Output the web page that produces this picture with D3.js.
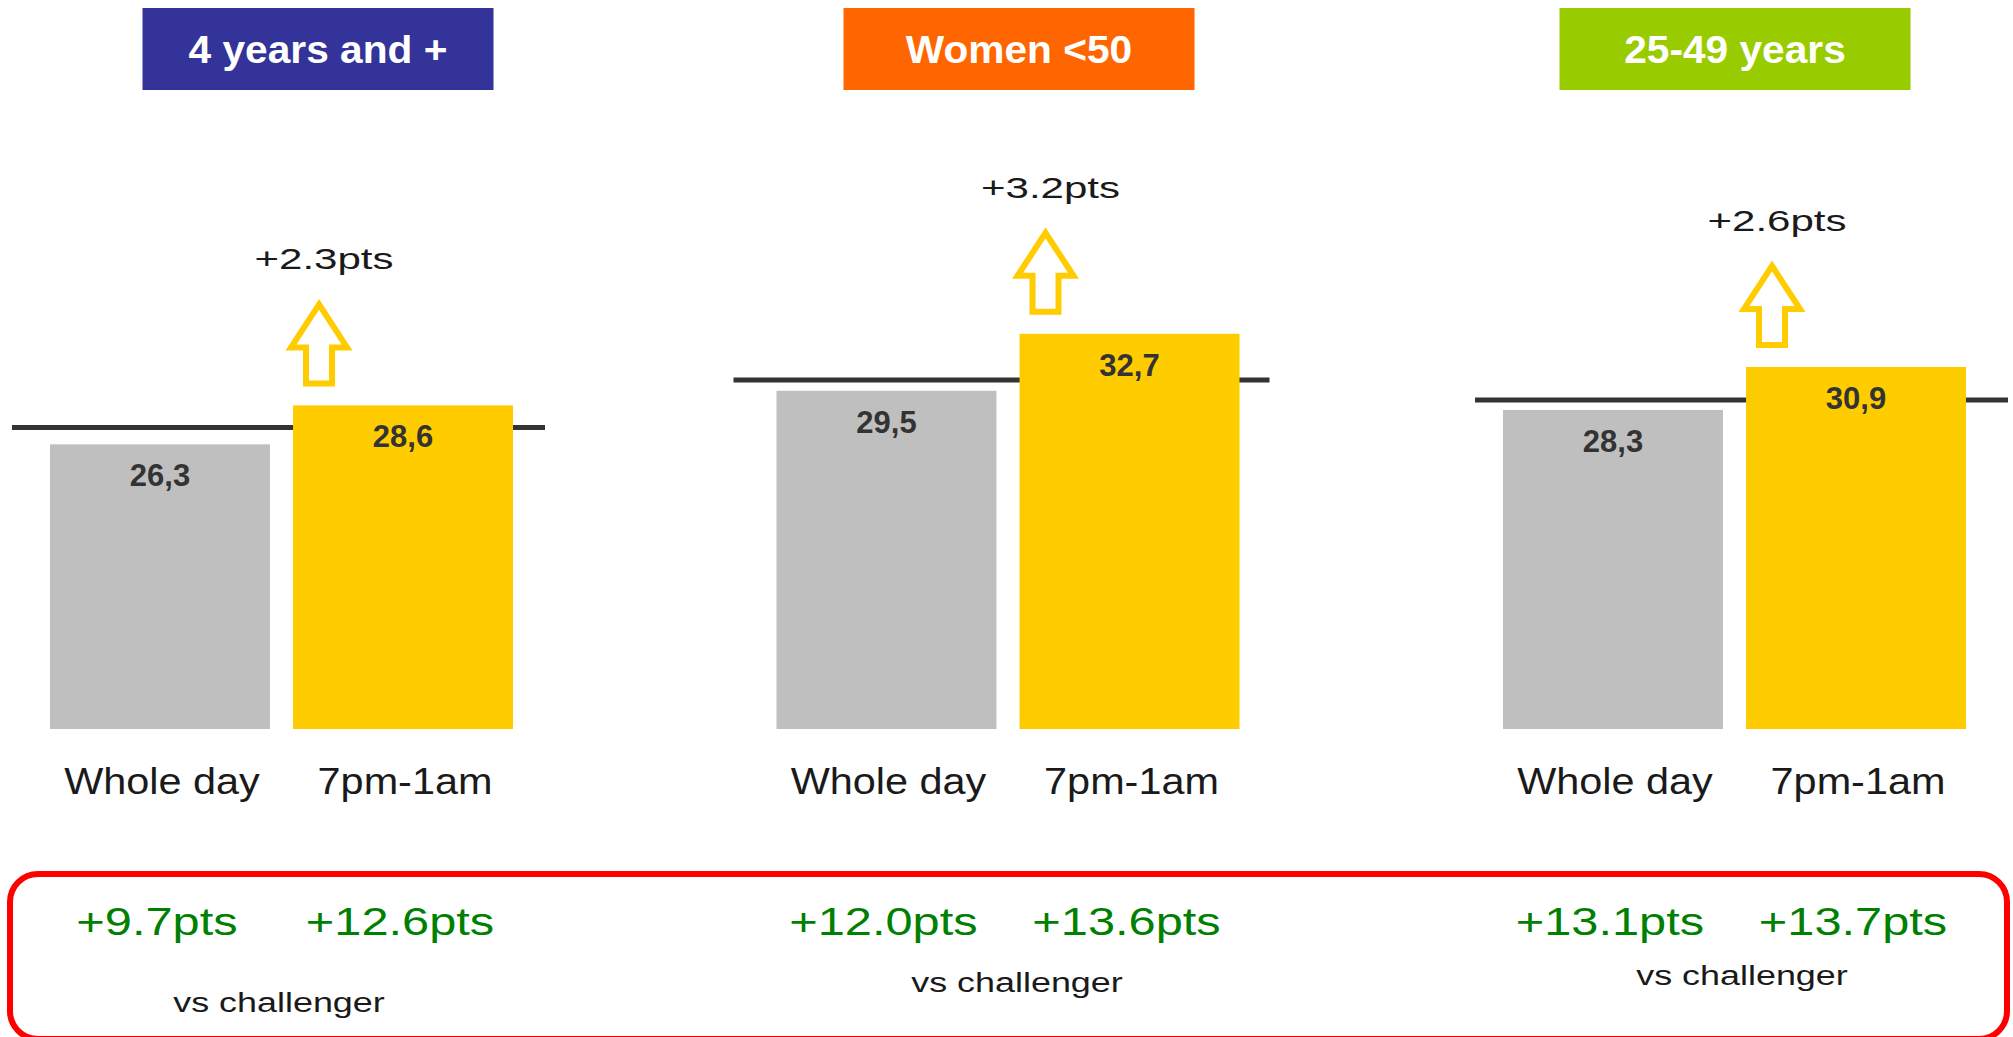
<!DOCTYPE html>
<html>
  <head>
    <meta charset="utf-8">
    <style>
      body { margin: 0; background: #fff; }
      text { font-family: "Liberation Sans", Arial, sans-serif; }
      .title { font-weight: bold; font-size: 38px; fill: #fff; }
      .value { font-weight: bold; font-size: 31px; fill: #333; }
      .delta { font-size: 29px; fill: #1a1a1a; }
      .period { font-size: 36px; fill: #1a1a1a; }
      .gap { font-size: 39px; fill: #008000; }
      .vs { font-size: 27px; fill: #1a1a1a; }
    </style>
  </head>
  <body>
    <svg width="2013" height="1037"></svg>
    <script src="https://d3js.org/d3.v7.min.js"></script>
    <script>
      // data
      var panels = ["4 years and +", "Women <50", "25-49 years"];
      var periods = ["Whole day", "7pm-1am"];
      var wholeDay = [26.3, 29.5, 28.3];
      var evening = [28.6, 32.7, 30.9];
      var refLine = [27.3, 30.1, 28.9];
      var axisMin = [9.5, 10.5, 9.0];
      var axisMax = [39.6, 39.15, 39.85];
      var gapWholeDay = [9.7, 12.0, 13.1];
      var gapEvening = [12.6, 13.6, 13.7];

      // layout / style
      var panelColors = ["#333399", "#ff6600", "#99cc00"];
      var titleCx = [318, 1019, 1735];
      var lineExt = [[-38, 495], [-43, 493], [-28, 505]];
      var vsCx = [279, 1017, 1742];
      var vsY = [1012, 992, 985];

      var svg = d3.select("svg");
      var yBase = 729, yTop = 219;

      var px = d3.scaleLinear().domain([0, 2]).range([50, 1503]);
      var x = d3.scaleBand().domain(periods).range([0, 463]).paddingInner(0.095);

      var comma = function(v) { return d3.format(".1f")(v).replace(".", ","); };
      var pts = function(v) { return d3.format("+.1f")(v) + "pts"; };

      function stretch(sel, k) {
        sel.each(function() {
          var w = this.getComputedTextLength();
          d3.select(this).attr("textLength", w * k).attr("lengthAdjust", "spacingAndGlyphs");
        });
      }

      // red box at the bottom
      svg.append("rect")
        .attr("x", 10).attr("y", 874)
        .attr("width", 1997).attr("height", 165)
        .attr("rx", 28)
        .attr("fill", "none")
        .attr("stroke", "#ff0000")
        .attr("stroke-width", 6);

      panels.forEach(function(name, i) {
        var y = d3.scaleLinear().domain([axisMin[i], axisMax[i]]).range([yBase, yTop]);
        var g = svg.append("g").attr("transform", "translate(" + px(i) + ",0)");
        var vals = [wholeDay[i], evening[i]];

        // title box
        svg.append("rect")
          .attr("x", titleCx[i] - 175.5).attr("y", 8)
          .attr("width", 351).attr("height", 82)
          .attr("fill", panelColors[i]);
        svg.append("text")
          .attr("class", "title")
          .attr("x", titleCx[i]).attr("y", 63)
          .attr("text-anchor", "middle")
          .text(name)
          .call(stretch, 1.07);

        // reference line (behind bars)
        g.append("line")
          .attr("x1", lineExt[i][0]).attr("x2", lineExt[i][1])
          .attr("y1", y(refLine[i])).attr("y2", y(refLine[i]))
          .attr("stroke", "#333")
          .attr("stroke-width", 5);

        g.selectAll(".bar")
          .data(vals)
          .enter().append("rect")
          .attr("x", function(d, j) { return x(periods[j]); })
          .attr("y", function(d) { return y(d); })
          .attr("width", x.bandwidth())
          .attr("height", function(d) { return yBase - y(d); })
          .attr("fill", function(d, j) { return j ? "#ffcc00" : "#bfbfbf"; });

        g.selectAll(".value")
          .data(vals)
          .enter().append("text")
          .attr("class", "value")
          .attr("x", function(d, j) { return x(periods[j]) + x.bandwidth() / 2; })
          .attr("y", function(d) { return y(d) + 42; })
          .attr("text-anchor", "middle")
          .text(comma);

        g.selectAll(".period")
          .data(periods)
          .enter().append("text")
          .attr("class", "period")
          .attr("x", function(d) { return x(d) + x.bandwidth() / 2 + 2; })
          .attr("y", 794)
          .attr("text-anchor", "middle")
          .text(function(d) { return d; })
          .call(stretch, 1.15);

        // arrow + delta
        var ax = x(periods[1]) + x.bandwidth() / 2 - 84;
        var ay = y(evening[i]) - 106;
        g.append("path")
          .attr("transform", "translate(" + ax + "," + ay + ")")
          .attr("d", "M0,5L28,48L13,48L13,84L-13,84L-13,48L-28,48Z")
          .attr("fill", "#fff")
          .attr("stroke", "#ffcc00")
          .attr("stroke-width", 6);
        g.append("text")
          .attr("class", "delta")
          .attr("x", ax + 5).attr("y", ay - 30)
          .attr("text-anchor", "middle")
          .text(pts(evening[i] - wholeDay[i]))
          .call(stretch, 1.45);

        // vs challenger
        g.selectAll(".gap")
          .data([gapWholeDay[i], gapEvening[i]])
          .enter().append("text")
          .attr("class", "gap")
          .attr("x", function(d, j) { return x(periods[j]) + x.bandwidth() / 2 - 3; })
          .attr("y", 935)
          .attr("text-anchor", "middle")
          .text(pts)
          .call(stretch, 1.25);

        svg.append("text")
          .attr("class", "vs")
          .attr("x", vsCx[i]).attr("y", vsY[i])
          .attr("text-anchor", "middle")
          .text("vs challenger")
          .call(stretch, 1.33);
      });
    </script>
  </body>
</html>
